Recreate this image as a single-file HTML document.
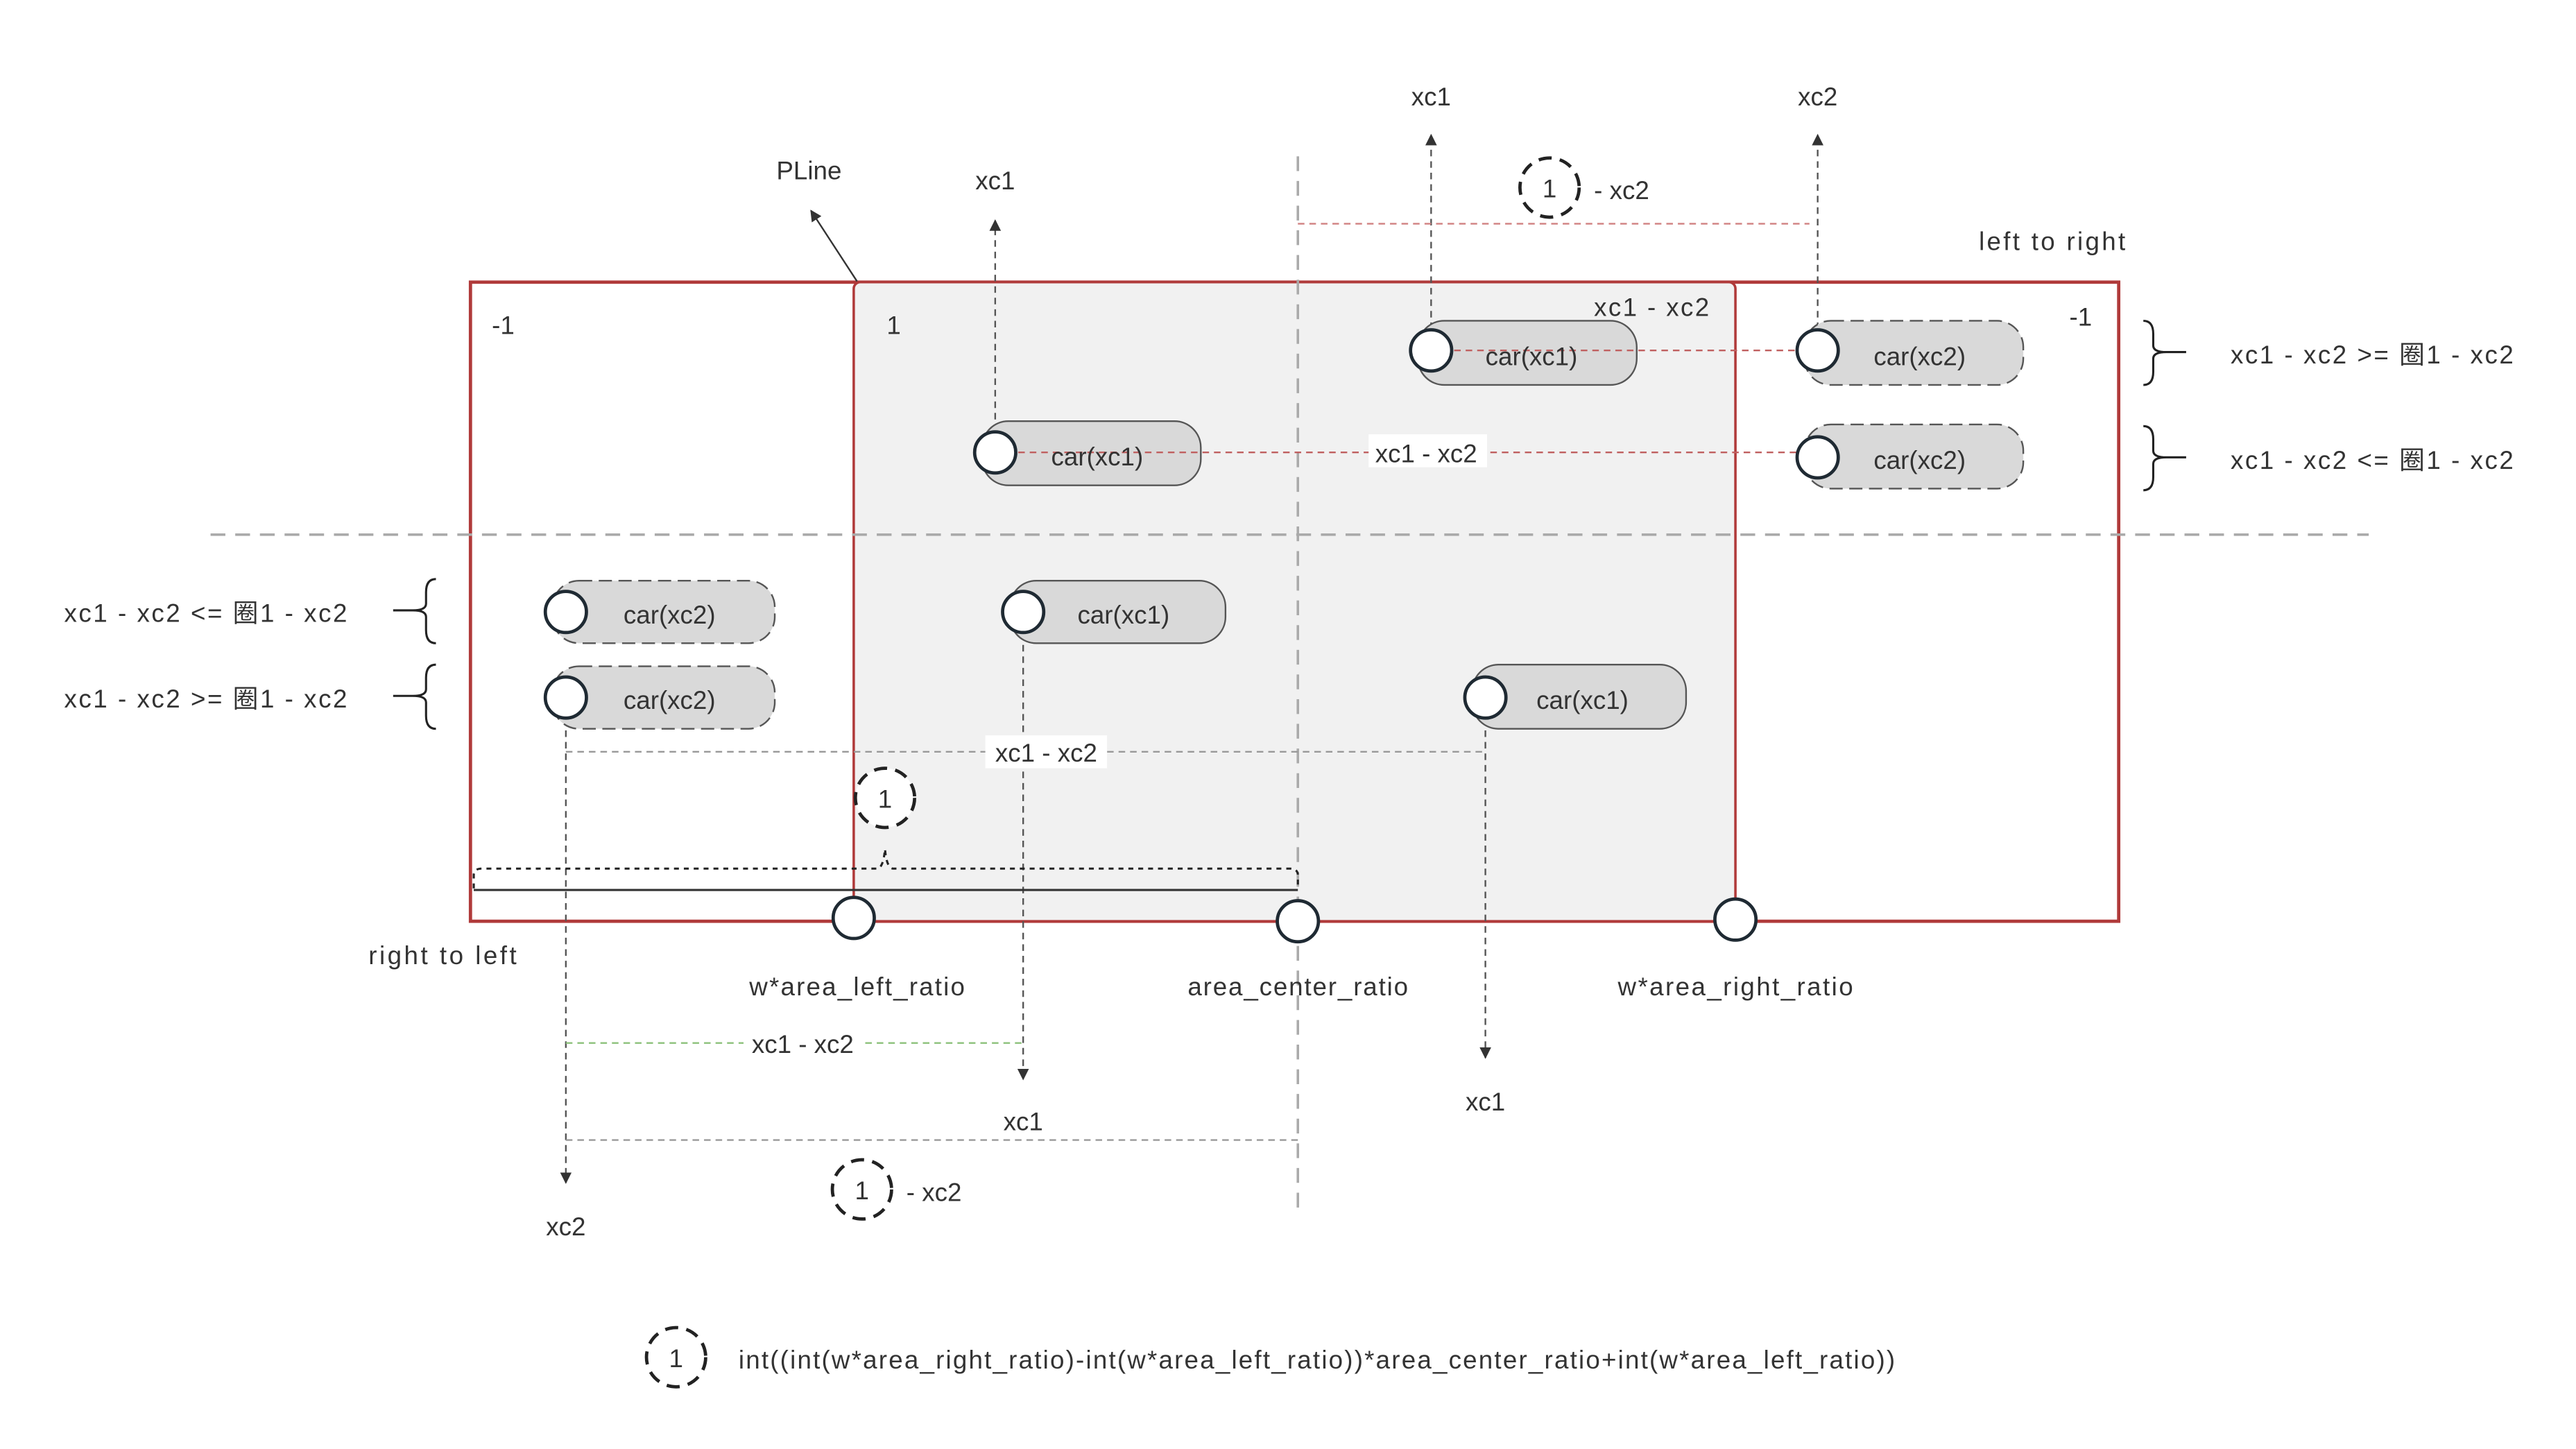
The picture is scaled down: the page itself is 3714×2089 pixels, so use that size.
<!DOCTYPE html>
<html><head><meta charset="utf-8"><style>html,body{margin:0;padding:0;background:#fff}svg{display:block}</style></head><body>
<svg width="3714" height="2089" viewBox="0 0 1566 880.8" xmlns="http://www.w3.org/2000/svg" font-family="Liberation Sans, Noto Sans CJK SC, sans-serif" font-size="15.5" fill="#333">
<defs>
<marker id="ar" viewBox="0 0 10 10" refX="9" refY="5" markerWidth="7" markerHeight="9" orient="auto"><path d="M0,0L10,5L0,10z" fill="#333"/></marker>
</defs>
<rect width="1566" height="881" fill="#fff"/>
<rect x="286" y="171.5" width="1002" height="388.5" fill="#fff" stroke="#b03a3a" stroke-width="2"/>
<rect x="519" y="171.5" width="536" height="388.5" rx="4" fill="#f1f1f1" stroke="#b03a3a" stroke-width="1.5"/>
<line x1="128" y1="325" x2="1440" y2="325" stroke="#aaa" stroke-width="1.5" stroke-dasharray="9,6"/>
<line x1="789" y1="95" x2="789" y2="740" stroke="#aaa" stroke-width="1.5" stroke-dasharray="9,6"/>
<g fill="#333">
<text x="299" y="203">-1</text><text x="539" y="203">1</text><text x="1258" y="198">-1</text>
<text x="969" y="192" textLength="70">xc1 - xc2</text>
<text x="472" y="109">PLine</text>
<text x="1203" y="152" textLength="89">left to right</text>
</g>
<line x1="521" y1="171" x2="493" y2="128" stroke="#333" stroke-width="1" marker-end="url(#ar)"/>
<g stroke="#555" stroke-width="1" stroke-dasharray="4,3">
<line x1="605" y1="262" x2="605" y2="134" marker-end="url(#ar)"/>
<line x1="870" y1="200" x2="870" y2="82" marker-end="url(#ar)"/>
<line x1="1105" y1="200" x2="1105" y2="82" marker-end="url(#ar)"/>
<line x1="622" y1="385" x2="622" y2="656" marker-end="url(#ar)"/>
<line x1="903" y1="437" x2="903" y2="643" marker-end="url(#ar)"/>
<line x1="344" y1="437" x2="344" y2="719" marker-end="url(#ar)"/>
</g>
<g text-anchor="middle">
<text x="605" y="115">xc1</text><text x="870" y="64">xc1</text><text x="1105" y="64">xc2</text>
<text x="622" y="687">xc1</text><text x="903" y="675">xc1</text><text x="344" y="751">xc2</text>
</g>
<line x1="789" y1="136" x2="1100" y2="136" stroke="#d08080" stroke-width="1" stroke-dasharray="4,3"/>
<circle cx="942" cy="114" r="18" fill="#fff" stroke="#222" stroke-width="2" stroke-dasharray="8,5"/>
<text x="942" y="120" text-anchor="middle">1</text><text x="969" y="121">- xc2</text>
<g stroke="#555" stroke-width="1">
<rect x="862" y="195" width="133" height="39" rx="16" fill="#d9d9d9"/>
<rect x="1097" y="195" width="133" height="39" rx="16" fill="#d9d9d9" stroke-dasharray="8,4"/>
<rect x="597" y="256" width="133" height="39" rx="16" fill="#d9d9d9"/>
<rect x="1097" y="258" width="133" height="39" rx="16" fill="#d9d9d9" stroke-dasharray="8,4"/>
<rect x="336" y="353" width="135" height="38" rx="16" fill="#d9d9d9" stroke-dasharray="8,4"/>
<rect x="336" y="405" width="135" height="38" rx="16" fill="#d9d9d9" stroke-dasharray="8,4"/>
<rect x="614" y="353" width="131" height="38" rx="16" fill="#d9d9d9"/>
<rect x="895" y="404" width="130" height="39" rx="16" fill="#d9d9d9"/>
</g>
<g stroke="#c06060" stroke-width="1" stroke-dasharray="4,3">
<line x1="870" y1="213" x2="1105" y2="213"/>
<line x1="605" y1="275" x2="1105" y2="275"/>
</g>
<line x1="344" y1="457" x2="903" y2="457" stroke="#999" stroke-width="1" stroke-dasharray="4,3"/>
<line x1="344" y1="634" x2="622" y2="634" stroke="#8bc07a" stroke-width="1" stroke-dasharray="4,3"/>
<line x1="344" y1="693" x2="789" y2="693" stroke="#999" stroke-width="1" stroke-dasharray="4,3"/>
<rect x="832" y="264" width="72" height="20" fill="#fff"/>
<rect x="599" y="447" width="74" height="20" fill="#fff"/>
<rect x="452" y="624" width="72" height="20" fill="#fff"/>
<g text-anchor="middle">
<text x="931" y="222">car(xc1)</text><text x="1167" y="222">car(xc2)</text>
<text x="667" y="283">car(xc1)</text><text x="1167" y="285">car(xc2)</text>
<text x="407" y="379">car(xc2)</text><text x="407" y="431">car(xc2)</text>
<text x="683" y="379">car(xc1)</text><text x="962" y="431">car(xc1)</text>
<text x="867" y="281">xc1 - xc2</text><text x="636" y="463">xc1 - xc2</text><text x="488" y="640">xc1 - xc2</text>
</g>
<g fill="#fff" stroke="#1f2a33" stroke-width="2">
<circle cx="870" cy="213" r="12.5"/><circle cx="1105" cy="213" r="12.5"/>
<circle cx="605" cy="275" r="12.5"/><circle cx="1105" cy="278" r="12.5"/>
<circle cx="344" cy="372" r="12.5"/><circle cx="344" cy="424" r="12.5"/>
<circle cx="622" cy="372" r="12.5"/><circle cx="903" cy="424" r="12.5"/>
<circle cx="519" cy="558" r="12.5"/><circle cx="789" cy="560" r="12.5"/><circle cx="1055" cy="559" r="12.5"/>
</g>
<g fill="none" stroke="#222" stroke-width="1.3">
<path d="M1303,195 q6,0 6,8 v7 q0,4 8,4 h12 M1317,214 q-8,0 -8,4 v8 q0,8 -6,8"/>
<path d="M1303,259 q6,0 6,8 v7 q0,4 8,4 h12 M1317,278 q-8,0 -8,4 v8 q0,8 -6,8"/>
<path d="M265,352 q-6,0 -6,8 v7 q0,4 -8,4 h-12 M251,371 q8,0 8,4 v8 q0,8 6,8"/>
<path d="M265,404 q-6,0 -6,8 v7 q0,4 -8,4 h-12 M251,423 q8,0 8,4 v8 q0,8 6,8"/>
</g>
<text x="1356" y="221" textLength="172">xc1 - xc2 &gt;= 圈1 - xc2</text>
<text x="1356" y="285" textLength="172">xc1 - xc2 &lt;= 圈1 - xc2</text>
<text x="39" y="378" textLength="172">xc1 - xc2 &lt;= 圈1 - xc2</text>
<text x="39" y="430" textLength="172">xc1 - xc2 &gt;= 圈1 - xc2</text>
<path d="M288,540 v-8 q0,-4 5,-4 h240 q4,0 5,-12 q1,12 5,12 h241 q5,0 5,4 v8" fill="none" stroke="#222" stroke-width="1.3" stroke-dasharray="3,3"/>
<line x1="288" y1="541" x2="789" y2="541" stroke="#333" stroke-width="1.3"/>
<circle cx="538" cy="485" r="18" fill="#fff" stroke="#222" stroke-width="2" stroke-dasharray="8,5"/>
<text x="538" y="491" text-anchor="middle">1</text>
<text x="224" y="586" textLength="90">right to left</text>
<g text-anchor="middle">
<text x="521" y="605" textLength="131">w*area_left_ratio</text><text x="789" y="605" textLength="134">area_center_ratio</text><text x="1055" y="605" textLength="143">w*area_right_ratio</text>
</g>
<circle cx="524" cy="723" r="18" fill="#fff" stroke="#222" stroke-width="2" stroke-dasharray="8,5"/>
<text x="524" y="729" text-anchor="middle">1</text><text x="551" y="730">- xc2</text>
<circle cx="411" cy="825" r="18" fill="#fff" stroke="#222" stroke-width="2" stroke-dasharray="8,5"/>
<text x="411" y="831" text-anchor="middle">1</text>
<text x="449" y="832" textLength="703">int((int(w*area_right_ratio)-int(w*area_left_ratio))*area_center_ratio+int(w*area_left_ratio))</text>
</svg>
</body></html>
